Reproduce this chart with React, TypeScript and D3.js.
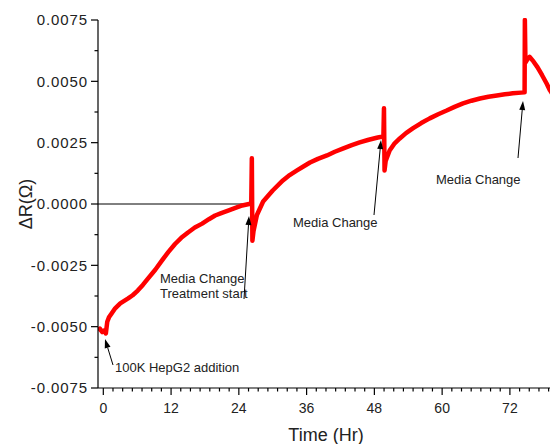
import React from "react";
import * as d3 from "d3";

// time in hours and ΔR in ohms
const hours = [
  -0.94, -0.6, -0.2, 0.2, 0.45, 0.7, 1.0, 1.5, 2.1, 3.0, 4.4, 5.2, 6.1, 7.0, 7.9, 9.2,
  10.4, 11.5, 12.7, 13.8, 15.0, 16.2, 17.5, 18.7, 19.8, 21.0, 22.1, 23.4, 24.6, 25.6,
  26.2, 26.3, 26.4, 26.6, 27.2, 28.3, 30.0, 31.8, 33.0, 34.3, 35.5, 36.6, 38.0, 39.6,
  41.0, 42.4, 44.0, 45.4, 47.0, 48.6, 49.6, 49.7, 49.8, 50.0, 50.7, 51.5, 52.5, 53.6,
  54.8, 56.3, 57.8, 59.3, 60.8, 62.2, 63.7, 65.2, 66.7, 68.2, 69.7, 71.1, 72.5, 74.0,
  74.6, 74.65, 74.75, 75.1, 75.5, 76.2, 76.9, 77.7, 78.5, 79.1, 79.6,
];
const deltaR = [
  -0.00516, -0.00508, -0.00522, -0.00515, -0.00528, -0.0048, -0.00462, -0.00445,
  -0.00425, -0.00405, -0.00385, -0.00372, -0.00353, -0.0033, -0.00304, -0.00268,
  -0.0023, -0.00196, -0.00163, -0.00138, -0.00116, -0.00096, -0.0008, -0.00062,
  -0.00047, -0.00036, -0.00027, -0.00016, -0.00006, -0.00001,
  0.00002, 0.00186, -0.0015, -0.0011, -0.00045, 0.0001, 0.00055, 0.00096, 0.00118,
  0.00137, 0.00154, 0.00169, 0.00184, 0.00198, 0.00213, 0.00226, 0.0024, 0.00251,
  0.00262, 0.00271, 0.00275, 0.0039, 0.00137, 0.00175, 0.00218, 0.00245, 0.00267,
  0.00289, 0.00308, 0.0033, 0.00349, 0.00366, 0.00381, 0.00396, 0.0041, 0.00421,
  0.0043, 0.00437, 0.00442, 0.00447, 0.00451, 0.00454,
  0.00455, 0.0075, 0.00577, 0.0059, 0.006, 0.0058, 0.00557, 0.00525, 0.00491,
  0.00463, 0.00445,
];

const xTicks = [0, 12, 24, 36, 48, 60, 72];
const yTicks = [-0.0075, -0.005, -0.0025, 0, 0.0025, 0.005, 0.0075];
const zeroLineEnd = 26.3;

const annotations = [
  { lines: ["100K HepG2 addition"], x: 115, y: 372, tail: [113, 365], head: [105, 339] },
  { lines: ["Media Change", "Treatment start"], x: 160, y: 283, tail: [244, 299], head: [249, 216] },
  { lines: ["Media Change"], x: 293, y: 227, tail: [374, 215], head: [381, 140] },
  { lines: ["Media Change"], x: 436, y: 184, tail: [518, 158], head: [523, 101] },
];

const W = 550;
const H = 444;
const font = "Arial, 'Liberation Sans', sans-serif";

function Arrow({ tail, head }: { tail: number[]; head: number[] }) {
  const dx = head[0] - tail[0];
  const dy = head[1] - tail[1];
  const len = Math.sqrt(dx * dx + dy * dy);
  const ux = dx / len;
  const uy = dy / len;
  const aL = 9;
  const aW = 3;
  const bx = head[0] - ux * aL;
  const by = head[1] - uy * aL;
  const pts = [
    [head[0], head[1]],
    [bx - uy * aW, by + ux * aW],
    [bx + uy * aW, by - ux * aW],
  ];
  return (
    <g>
      <line x1={tail[0]} y1={tail[1]} x2={bx} y2={by} stroke="#000" strokeWidth={1} />
      <polygon points={pts.map((p) => p.join(",")).join(" ")} fill="#000" />
    </g>
  );
}

export default function App() {
  const x = d3.scaleLinear().domain([-0.94, 79.1]).range([98, 550]);
  const y = d3.scaleLinear().domain([-0.0075, 0.0075]).range([388, 20]);

  const data = hours.map((h, i) => [h, deltaR[i]] as [number, number]);
  const line = d3
    .line<[number, number]>()
    .x((d) => x(d[0]))
    .y((d) => y(d[1]));

  const step = 12 / 7;
  const xMinor: number[] = [];
  for (let k = 0; k * step <= 80; k++) {
    const t = k * step;
    if (k % 7 !== 0 && t <= 79.1) xMinor.push(t);
  }
  const yMinor = yTicks.slice(0, -1).map((v, i) => (v + yTicks[i + 1]) / 2);

  return (
    <svg
      width={W}
      height={H}
      style={{ position: "absolute", left: 0, top: 0, background: "#fff" }}
      fontFamily={font}
    >
      <defs>
        <clipPath id="plot">
          <rect x={98} y={18} width={452} height={372} />
        </clipPath>
      </defs>

      {/* zero reference line */}
      <line x1={x(-0.94)} x2={x(zeroLineEnd)} y1={y(0)} y2={y(0)} stroke="#000" strokeWidth={1} />

      <path
        d={line(data) || ""}
        fill="none"
        stroke="#ff0000"
        strokeWidth={4.5}
        strokeLinejoin="round"
        clipPath="url(#plot)"
      />

      {/* y axis */}
      <line x1={98} x2={98} y1={y(0.0075)} y2={388} stroke="#000" strokeWidth={1.2} />
      {yTicks.map((v) => (
        <g key={"yt" + v}>
          <line x1={91} x2={98} y1={y(v)} y2={y(v)} stroke="#000" strokeWidth={1.2} />
          <text
            x={88}
            y={y(v)}
            dy="0.35em"
            textAnchor="end"
            fontSize={15}
            letterSpacing={0.9}
            fill="#222"
          >
            {v.toFixed(4)}
          </text>
        </g>
      ))}
      {yMinor.map((v) => (
        <line key={"ym" + v} x1={94.5} x2={98} y1={y(v)} y2={y(v)} stroke="#000" strokeWidth={1.2} />
      ))}

      {/* x axis */}
      <line x1={98} x2={550} y1={388} y2={388} stroke="#000" strokeWidth={1.2} />
      {xTicks.map((t) => (
        <g key={"xt" + t}>
          <line x1={x(t)} x2={x(t)} y1={388} y2={395} stroke="#000" strokeWidth={1.2} />
          <text x={x(t)} y={413} textAnchor="middle" fontSize={14} fill="#222">
            {t}
          </text>
        </g>
      ))}
      {xMinor.map((t) => (
        <line key={"xm" + t} x1={x(t)} x2={x(t)} y1={388} y2={391.5} stroke="#000" strokeWidth={1.2} />
      ))}

      <text x={326} y={441} textAnchor="middle" fontSize={18} fill="#222">
        Time (Hr)
      </text>
      <text
        transform={`translate(32,${y(0)}) rotate(-90)`}
        textAnchor="middle"
        fontSize={18}
        fill="#222"
      >
        ΔR(Ω)
      </text>

      {annotations.map((a, i) => (
        <g key={"an" + i}>
          {a.lines.map((l, j) => (
            <text key={j} x={a.x} y={a.y + j * 15} fontSize={13} fill="#222">
              {l}
            </text>
          ))}
          <Arrow tail={a.tail} head={a.head} />
        </g>
      ))}
    </svg>
  );
}
